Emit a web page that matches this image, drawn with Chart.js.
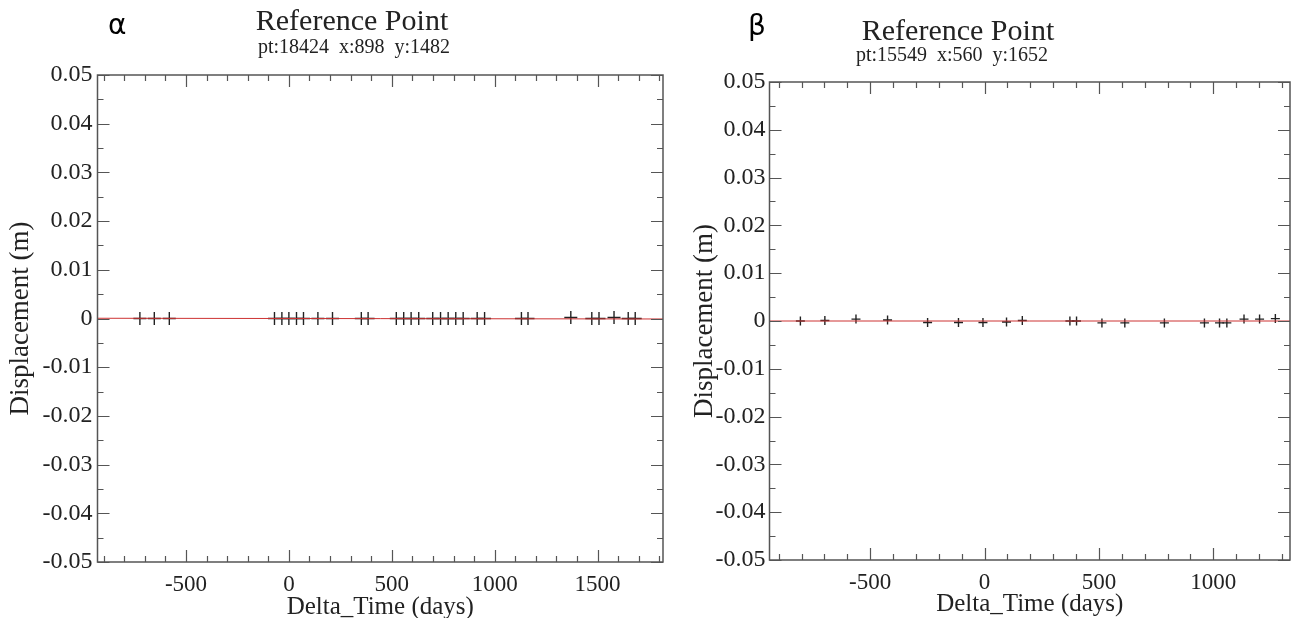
<!DOCTYPE html>
<html><head><meta charset="utf-8">
<script src="https://cdn.jsdelivr.net/npm/chart.js@4.4.0/dist/chart.umd.min.js"></script>
<style>
html,body{margin:0;padding:0;background:#fff;width:1299px;height:618px;overflow:hidden;}
.box{position:absolute;top:0;height:618px;}
.lbl{position:absolute;white-space:pre;font-family:"Liberation Serif","Times New Roman",serif;color:#222;transform:translateX(-50%);line-height:1;z-index:2;}
.greek{position:absolute;font-family:"DejaVu Sans",sans-serif;font-size:28px;color:#000;line-height:1;z-index:2;}
</style></head><body>
<div class="box" style="left:0;width:680px"><canvas id="c1"></canvas></div>
<div class="box" style="left:680px;width:619px"><canvas id="c2"></canvas></div>
<div class="greek" style="left:108px;top:11px">α</div>
<div class="lbl" style="left:352px;top:5px;font-size:30px">Reference Point</div>
<div class="lbl" style="left:354px;top:36px;font-size:20px">pt:18424  x:898  y:1482</div>
<div class="greek" style="left:748px;top:12px">β</div>
<div class="lbl" style="left:958px;top:15px;font-size:30px">Reference Point</div>
<div class="lbl" style="left:952px;top:44px;font-size:20px">pt:15549  x:560  y:1652</div>
<script>
// ---- data ----
const alphaDays = [-724,-654,-581,-70,-34,0,37,71,141,212,352,385,522,558,594,631,699,737,774,811,847,915,951,1130,1162,1370,1472,1507,1580,1649,1683];
const alphaDisp = [0,0,0,0,0,0,0,0,0,0,0,0,0,0,0,0,0,0,0,0,0,0,0,0,0,0.0002,0,0,0.0002,0,0];
const alphaFitDays = [-930, 1818];
const alphaFitDisp = [0.00005, -0.0001];
const alphaXRange = [-930, 1818];

const betaDays = [-805,-698,-562,-424,-249,-114,-7,96,165,373,402,513,613,786,961,1027,1059,1134,1202,1271];
const betaDisp = [0,0.0001,0.0004,0.0002,-0.0003,-0.0003,-0.0003,-0.0002,0.0001,0,0,-0.0004,-0.0004,-0.0004,-0.0004,-0.0004,-0.0004,0.0004,0.0004,0.0005];
const betaFitDays = [-940, 1335];
const betaFitDisp = [0, 0];
const betaXRange = [-940, 1335];

const yRange = [-0.05, 0.05];
const xMajorStep = 500, xMinorStep = 100;
const yMajorStep = 0.01, yMinorStep = 0.005;
const xTitle = 'Delta_Time (days)';
const yTitle = 'Displacement (m)';

const SERIF = '"Liberation Serif","Times New Roman",serif';

const framePlugin = {
  id: 'frame',
  afterDraw(chart) {
    const {ctx, chartArea: a, scales: {x, y}} = chart;
    const majorLen = 12, minorLen = 6;
    ctx.save();
    ctx.strokeStyle = '#555';
    ctx.lineWidth = 1.2;
    ctx.beginPath();
    const k0 = Math.ceil(x.min / xMinorStep - 1e-9), k1 = Math.floor(x.max / xMinorStep + 1e-9);
    for (let k = k0; k <= k1; k++) {
      const v = k * xMinorStep;
      const px = Math.round(x.getPixelForValue(v)) + 0.5;
      const L = (v % xMajorStep === 0) ? majorLen : minorLen;
      ctx.moveTo(px, a.bottom); ctx.lineTo(px, a.bottom - L);
      ctx.moveTo(px, a.top); ctx.lineTo(px, a.top + L);
    }
    const ratio = Math.round(yMajorStep / yMinorStep);
    const j0 = Math.ceil(y.min / yMinorStep - 1e-9), j1 = Math.floor(y.max / yMinorStep + 1e-9);
    for (let j = j0; j <= j1; j++) {
      const py = Math.round(y.getPixelForValue(j * yMinorStep)) + 0.5;
      const L = (j % ratio === 0) ? majorLen : minorLen;
      ctx.moveTo(a.left, py); ctx.lineTo(a.left + L, py);
      ctx.moveTo(a.right, py); ctx.lineTo(a.right - L, py);
    }
    ctx.stroke();
    ctx.lineWidth = 1.5;
    ctx.strokeRect(a.left, a.top, a.right - a.left, a.bottom - a.top);
    ctx.restore();
  }
};

function makeChart(id, days, disp, fitDays, fitDisp, xRange, g) {
  const pts = days.map((d, i) => ({x: d, y: disp[i]}));
  const fit = fitDays.map((d, i) => ({x: d, y: fitDisp[i]}));
  return new Chart(document.getElementById(id), {
    type: 'scatter',
    data: {
      datasets: [
        {type: 'line', data: fit, borderColor: 'rgb(205,50,50)', borderWidth: 1, pointRadius: 0, fill: false, order: 0},
        {data: pts, pointStyle: 'cross', pointRadius: g.radius, borderColor: '#222', borderWidth: 1.4, backgroundColor: 'rgba(0,0,0,0)', order: 1}
      ]
    },
    options: {
      responsive: true, maintainAspectRatio: false, animation: false, events: [],
      layout: {padding: {left: 0, top: g.top, right: g.right, bottom: 0}},
      plugins: {legend: {display: false}, tooltip: {enabled: false}, title: {display: false}},
      scales: {
        x: {
          type: 'linear', min: xRange[0], max: xRange[1],
          grid: {display: false, drawTicks: false}, border: {display: false},
          ticks: {
            stepSize: xMinorStep, autoSkip: false, maxRotation: 0, padding: g.xTickPad,
            color: '#222', font: {family: SERIF, size: 23},
            callback: v => (Math.round(v) % xMajorStep === 0 && Math.abs(v - Math.round(v)) < 1e-6) ? String(Math.round(v)) : ''
          },
          title: {display: true, text: xTitle, color: '#222', font: {family: SERIF, size: 25, lineHeight: 1}, padding: {top: 0, bottom: g.xTitlePad}},
          afterFit: s => { s.height = g.xHeight; }
        },
        y: {
          type: 'linear', min: yRange[0], max: yRange[1],
          grid: {display: false, drawTicks: false}, border: {display: false},
          ticks: {
            stepSize: yMajorStep, autoSkip: false, padding: g.yTickPad,
            color: '#222', font: {family: SERIF, size: 24},
            callback: v => Math.abs(v) < 1e-9 ? '0' : v.toFixed(2)
          },
          title: {display: true, text: yTitle, color: '#222', font: {family: SERIF, size: 27, lineHeight: 1}, padding: {top: g.yTitlePad, bottom: 0}},
          afterFit: s => { s.width = g.yWidth; }
        }
      }
    },
    plugins: [framePlugin]
  });
}

makeChart('c1', alphaDays, alphaDisp, alphaFitDays, alphaFitDisp, alphaXRange,
  {top: 75, right: 17, yWidth: 97.5, xHeight: 56, radius: 6.5, xTickPad: 9, yTickPad: 5, xTitlePad: -2, yTitlePad: 7});
makeChart('c2', betaDays, betaDisp, betaFitDays, betaFitDisp, betaXRange,
  {top: 82, right: 1.5, yWidth: 89.5, xHeight: 58, radius: 4.5, xTickPad: 9, yTickPad: 4, xTitlePad: 1, yTitlePad: 11});
</script>
</body></html>
